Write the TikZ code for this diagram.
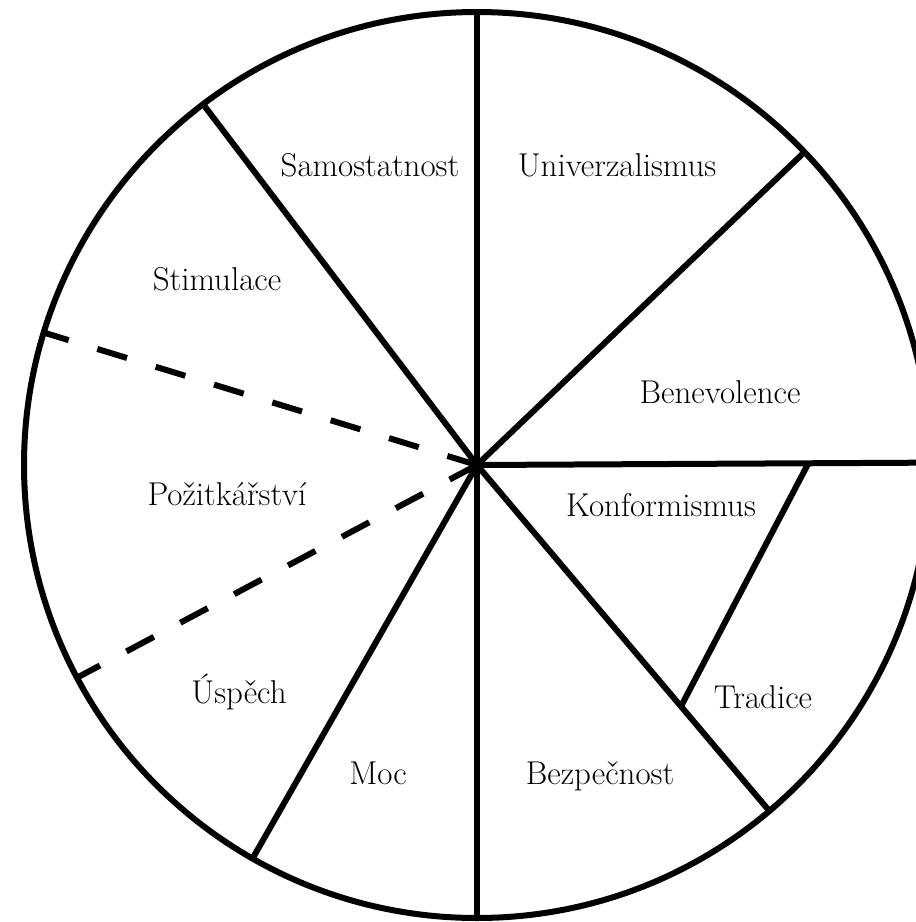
\documentclass[tikz,border=0pt]{standalone}
\usetikzlibrary{calc}
\begin{document}
\begin{tikzpicture}[x=1pt,y=-1pt,
  wheel/.style={line width=6pt},
  spoke/.style={line width=6pt, line cap=butt},
  dashspoke/.style={line width=6pt, dash pattern=on 31pt off 30pt, dash phase=5pt},
  lbl/.style={anchor=base, inner sep=0pt, font=\fontsize{33}{39}\selectfont}]
\useasboundingbox (0,0) rectangle (916,922);
\clip (0,0) rectangle (916,922);
% y axis points down, so polar angles are measured clockwise here
\coordinate (c) at (477,465);
\draw[wheel] (c) circle[radius=453];
% solid spokes
\draw[spoke] (c) -- ++(-90:453) coordinate (pN);
\draw[spoke] (c) -- ++(90:453) coordinate (pS);
\draw[spoke] (c) -- ++(-127.2:453) coordinate (pNW);
\draw[spoke] (c) -- ++(-43.7:453) coordinate (pNE);
\draw[spoke] (c) -- ++(-0.3:460) coordinate (pE);
\draw[spoke] (c) -- ++(-240.3:453) coordinate (pSW);
\draw[spoke] (c) -- ++(-310.2:453) coordinate (pSE);
% Konformismus / Tradice divider
\coordinate (kt1) at ($(c)+(-310.2:316)$);
\coordinate (kt2) at (808,464);
\draw[spoke] (kt1) -- (kt2);
% dashed spokes
\coordinate (dU) at ($(c)+(-163:453)$);
\coordinate (dL) at ($(c)+(-208:453)$);
\draw[dashspoke] (dU) -- (c);
\draw[dashspoke] (dL) -- (c);
% labels
\node[lbl] (samo) at (370,176) {Samostatnost};
\node[lbl] (univ) at (617,176) {Univerzalismus};
\node[lbl] (stim) at (217,290) {Stimulace};
\node[lbl] (bene) at (720,403) {Benevolence};
\node[lbl] (pozi) at (227,505) {Požitkářství};
\node[lbl] (konf) at (661,516) {Konformismus};
\node[lbl] (uspe) at (239,703) {Úspěch};
\node[lbl] (trad) at (763,708) {Tradice};
\node[lbl] (moc) at (378,784) {Moc};
\node[lbl] (bezp) at (600,784) {Bezpečnost};
\end{tikzpicture}
\end{document}
